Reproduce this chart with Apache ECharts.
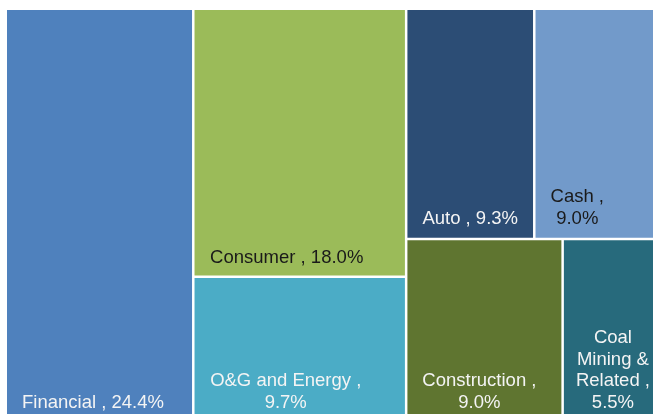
<!DOCTYPE html>
<html>
<head>
<meta charset="utf-8">
<script src="https://cdn.jsdelivr.net/npm/echarts@6/dist/echarts.min.js"></script>
<style>
  html, body { margin: 0; padding: 0; background: #fff; }
  #chart { width: 653px; height: 414px; }
</style>
</head>
<body>
<div id="chart"></div>
<script>
// sector weights (%)
const names = ['Financial', 'Consumer', 'O&G and Energy', 'Auto', 'Cash', 'Construction', 'Coal Mining & Related']
const values = [24.4, 18.0, 9.7, 9.3, 9.0, 9.0, 5.5]
const colors = ['#4F81BD', '#9BBB59', '#4BACC6', '#2C4D75', '#729ACA', '#5F7530', '#276A7C']

// how the names wrap inside the small cells
const wrappedNames = {'Coal Mining & Related': 'Coal\nMining &\nRelated'}
const valueOnNewLine = ['O&G and Energy', 'Cash', 'Construction', 'Coal Mining & Related']

// label look per cell: [top, right, bottom, left] padding nudges the centred lines
const labelLook = {
  'Financial': {color: '#f4f4f4', padding: [0, 13, 6, 0]},
  'Consumer': {color: '#1a1a1a', padding: [0, 26, 7, 0]},
  'O&G and Energy': {color: '#f4f4f4', padding: [0, 28, 6, 0]},
  'Auto': {color: '#f4f4f4', padding: [0, 0, 8, 0]},
  'Cash': {color: '#1a1a1a', padding: [0, 38, 8, 0]},
  'Construction': {color: '#f4f4f4', padding: [0, 10, 6, 0]},
  'Coal Mining & Related': {color: '#f4f4f4', padding: [0, 0, 6, 5]},
}

function leaf(i) {
  const name = names[i]
  return {
    name: name,
    value: values[i],
    itemStyle: {color: colors[i]},
    label: labelLook[name],
  }
}

// grouping so the squarified layout splits the same way as the picture
const treeData = [
  leaf(0),
  {
    name: 'rest',
    children: [
      {name: 'g1', children: [leaf(1), leaf(2)]},
      {
        name: 'g2',
        children: [
          {name: 'top', children: [leaf(3), leaf(4)]},
          {name: 'bottom', children: [leaf(5), leaf(6)]},
        ],
      },
    ],
  },
]

const chart = echarts.init(document.getElementById('chart'), null, {renderer: 'canvas'})

chart.setOption({
  animation: false,
  series: [
    {
      type: 'treemap',
      left: 7,
      top: 10,
      width: 650,
      height: 410,
      roam: false,
      nodeClick: false,
      sort: false,
      squareRatio: 1,
      drillDownIcon: '',
      breadcrumb: {show: false},
      itemStyle: {
        borderWidth: 0,
        gapWidth: 2.5,
        borderColor: '#fff',
      },
      label: {
        show: true,
        position: 'insideBottom',
        align: 'center',
        distance: 0,
        fontFamily: 'Liberation Sans, Arial, sans-serif',
        fontSize: 18.5,
        lineHeight: 21.8,
        overflow: 'none',
        formatter: function (p) {
          const n = wrappedNames[p.name] || p.name
          const sep = valueOnNewLine.indexOf(p.name) >= 0 ? ' ,\n' : ' , '
          return n + sep + p.value.toFixed(1) + '%'
        },
      },
      upperLabel: {show: false},
      data: treeData,
    },
  ],
})
</script>
</body>
</html>
